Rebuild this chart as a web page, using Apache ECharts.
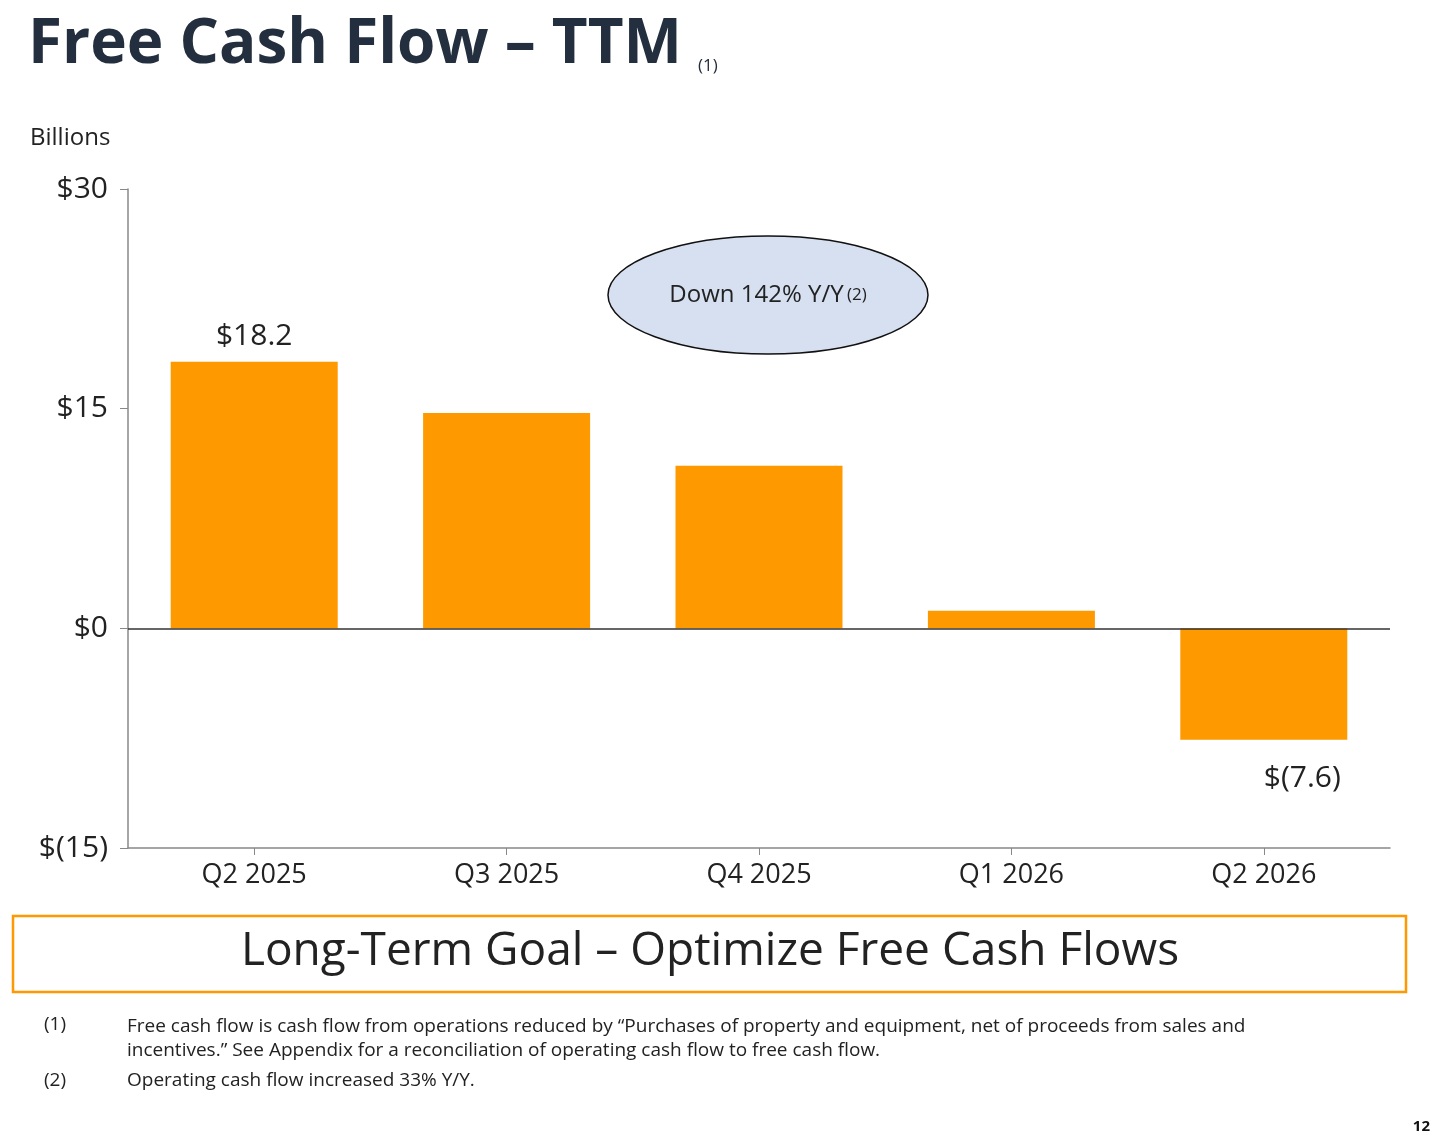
<!DOCTYPE html>
<html><head><meta charset="utf-8">
<script src="https://cdn.jsdelivr.net/npm/echarts@6/dist/echarts.min.js"></script>
<style>html,body{margin:0;padding:0;background:#fff}#c{width:1456px;height:1146px}</style>
</head><body><div id="c"></div>
<script>
const categories = ['Q2 2025', 'Q3 2025', 'Q4 2025', 'Q1 2026', 'Q2 2026'];
const fcfValues = [18.2, 14.7, 11.1, 1.2, -7.6];
const barLabels = ['$18.2', '', '', '', '$(7.6)'];
const yTickLabels = { '-15': '$(15)', '0': '$0', '15': '$15', '30': '$30' };

const font = '"Open Sans", "Noto Sans", sans-serif';
const chart = echarts.init(document.getElementById('c'));
chart.setOption({
  animation: false,
  grid: { left: 128, right: 66, top: 189, bottom: 298 },
  xAxis: {
    type: 'category', data: categories,
    axisLine: { onZero: false, lineStyle: { color: '#888', width: 1.5 } },
    axisTick: { show: true, alignWithLabel: true, length: 7, lineStyle: { color: '#888' } },
    axisLabel: { fontSize: 27, color: '#222', fontFamily: font, margin: 14 }
  },
  yAxis: {
    min: -15, max: 30, interval: 15,
    axisLine: { show: true, lineStyle: { color: '#888', width: 1.5 } },
    axisTick: { show: true, inside: false, length: 8, lineStyle: { color: '#888' } },
    splitLine: { show: false },
    axisLabel: { fontSize: 30, color: '#222', fontFamily: font, margin: 20,
      formatter: v => yTickLabels[String(v)] || '' }
  },
  series: [{
    type: 'bar', data: fcfValues, barWidth: 167,
    itemStyle: { color: '#FF9900' },
    label: { show: true, fontSize: 30, color: '#222', fontFamily: font, distance: 10,
      position: 'top',
      formatter: p => barLabels[p.dataIndex] },
    labelLayout: p => (fcfValues[p.dataIndex] < 0 ? { y: p.rect.y + p.rect.height + 24 } : {}),
    markLine: {
      silent: true, symbol: 'none', label: { show: false },
      lineStyle: { color: '#333', type: 'solid', width: 1.5 },
      data: [{ yAxis: 0 }]
    }
  }],
  graphic: [
    { type: 'text', left: 28, top: 14, style: { text: 'Free Cash Flow – TTM', fontSize: 62, fontWeight: 'bold', fill: '#232f3e', fontFamily: font } },
    { type: 'text', left: 698, top: 58, style: { text: '(1)', fontSize: 17, fill: '#232f3e', fontFamily: font } },
    { type: 'text', left: 30, top: 126, style: { text: 'Billions', fontSize: 24, fill: '#222', fontFamily: font } },
    { type: 'ellipse', shape: { cx: 768, cy: 295, rx: 160, ry: 59 }, style: { fill: '#d6e0f0', stroke: '#111', lineWidth: 1.5 } },
    { type: 'text', x: 768, y: 295, style: { text: '{a|Down 142% Y/Y} {b|(2)}', align: 'center', verticalAlign: 'middle',
      rich: { a: { fontSize: 24, fill: '#222', fontFamily: font }, b: { fontSize: 17, fill: '#222', fontFamily: font } } } },
    { type: 'rect', shape: { x: 13, y: 916, width: 1393, height: 76 }, style: { fill: 'none', stroke: '#FF9900', lineWidth: 2.5 } },
    { type: 'text', x: 710, y: 952, style: { text: 'Long-Term Goal – Optimize Free Cash Flows', align: 'center', verticalAlign: 'middle', fontSize: 46, fill: '#222', fontFamily: font } },
    { type: 'text', left: 44, top: 1015, style: { text: '(1)', fontSize: 19, fill: '#222', fontFamily: font } },
    { type: 'text', left: 127, top: 1015, style: { text: 'Free cash flow is cash flow from operations reduced by “Purchases of property and equipment, net of proceeds from sales and\nincentives.” See Appendix for a reconciliation of operating cash flow to free cash flow.', fontSize: 19, lineHeight: 24, fill: '#222', fontFamily: font } },
    { type: 'text', left: 44, top: 1071, style: { text: '(2)', fontSize: 19, fill: '#222', fontFamily: font } },
    { type: 'text', left: 127, top: 1071, style: { text: 'Operating cash flow increased 33% Y/Y.', fontSize: 19, fill: '#222', fontFamily: font } },
    { type: 'text', right: 26, top: 1119, style: { text: '12', fontSize: 15, fontWeight: 'bold', fill: '#111', fontFamily: font } }
  ]
});
</script></body></html>
